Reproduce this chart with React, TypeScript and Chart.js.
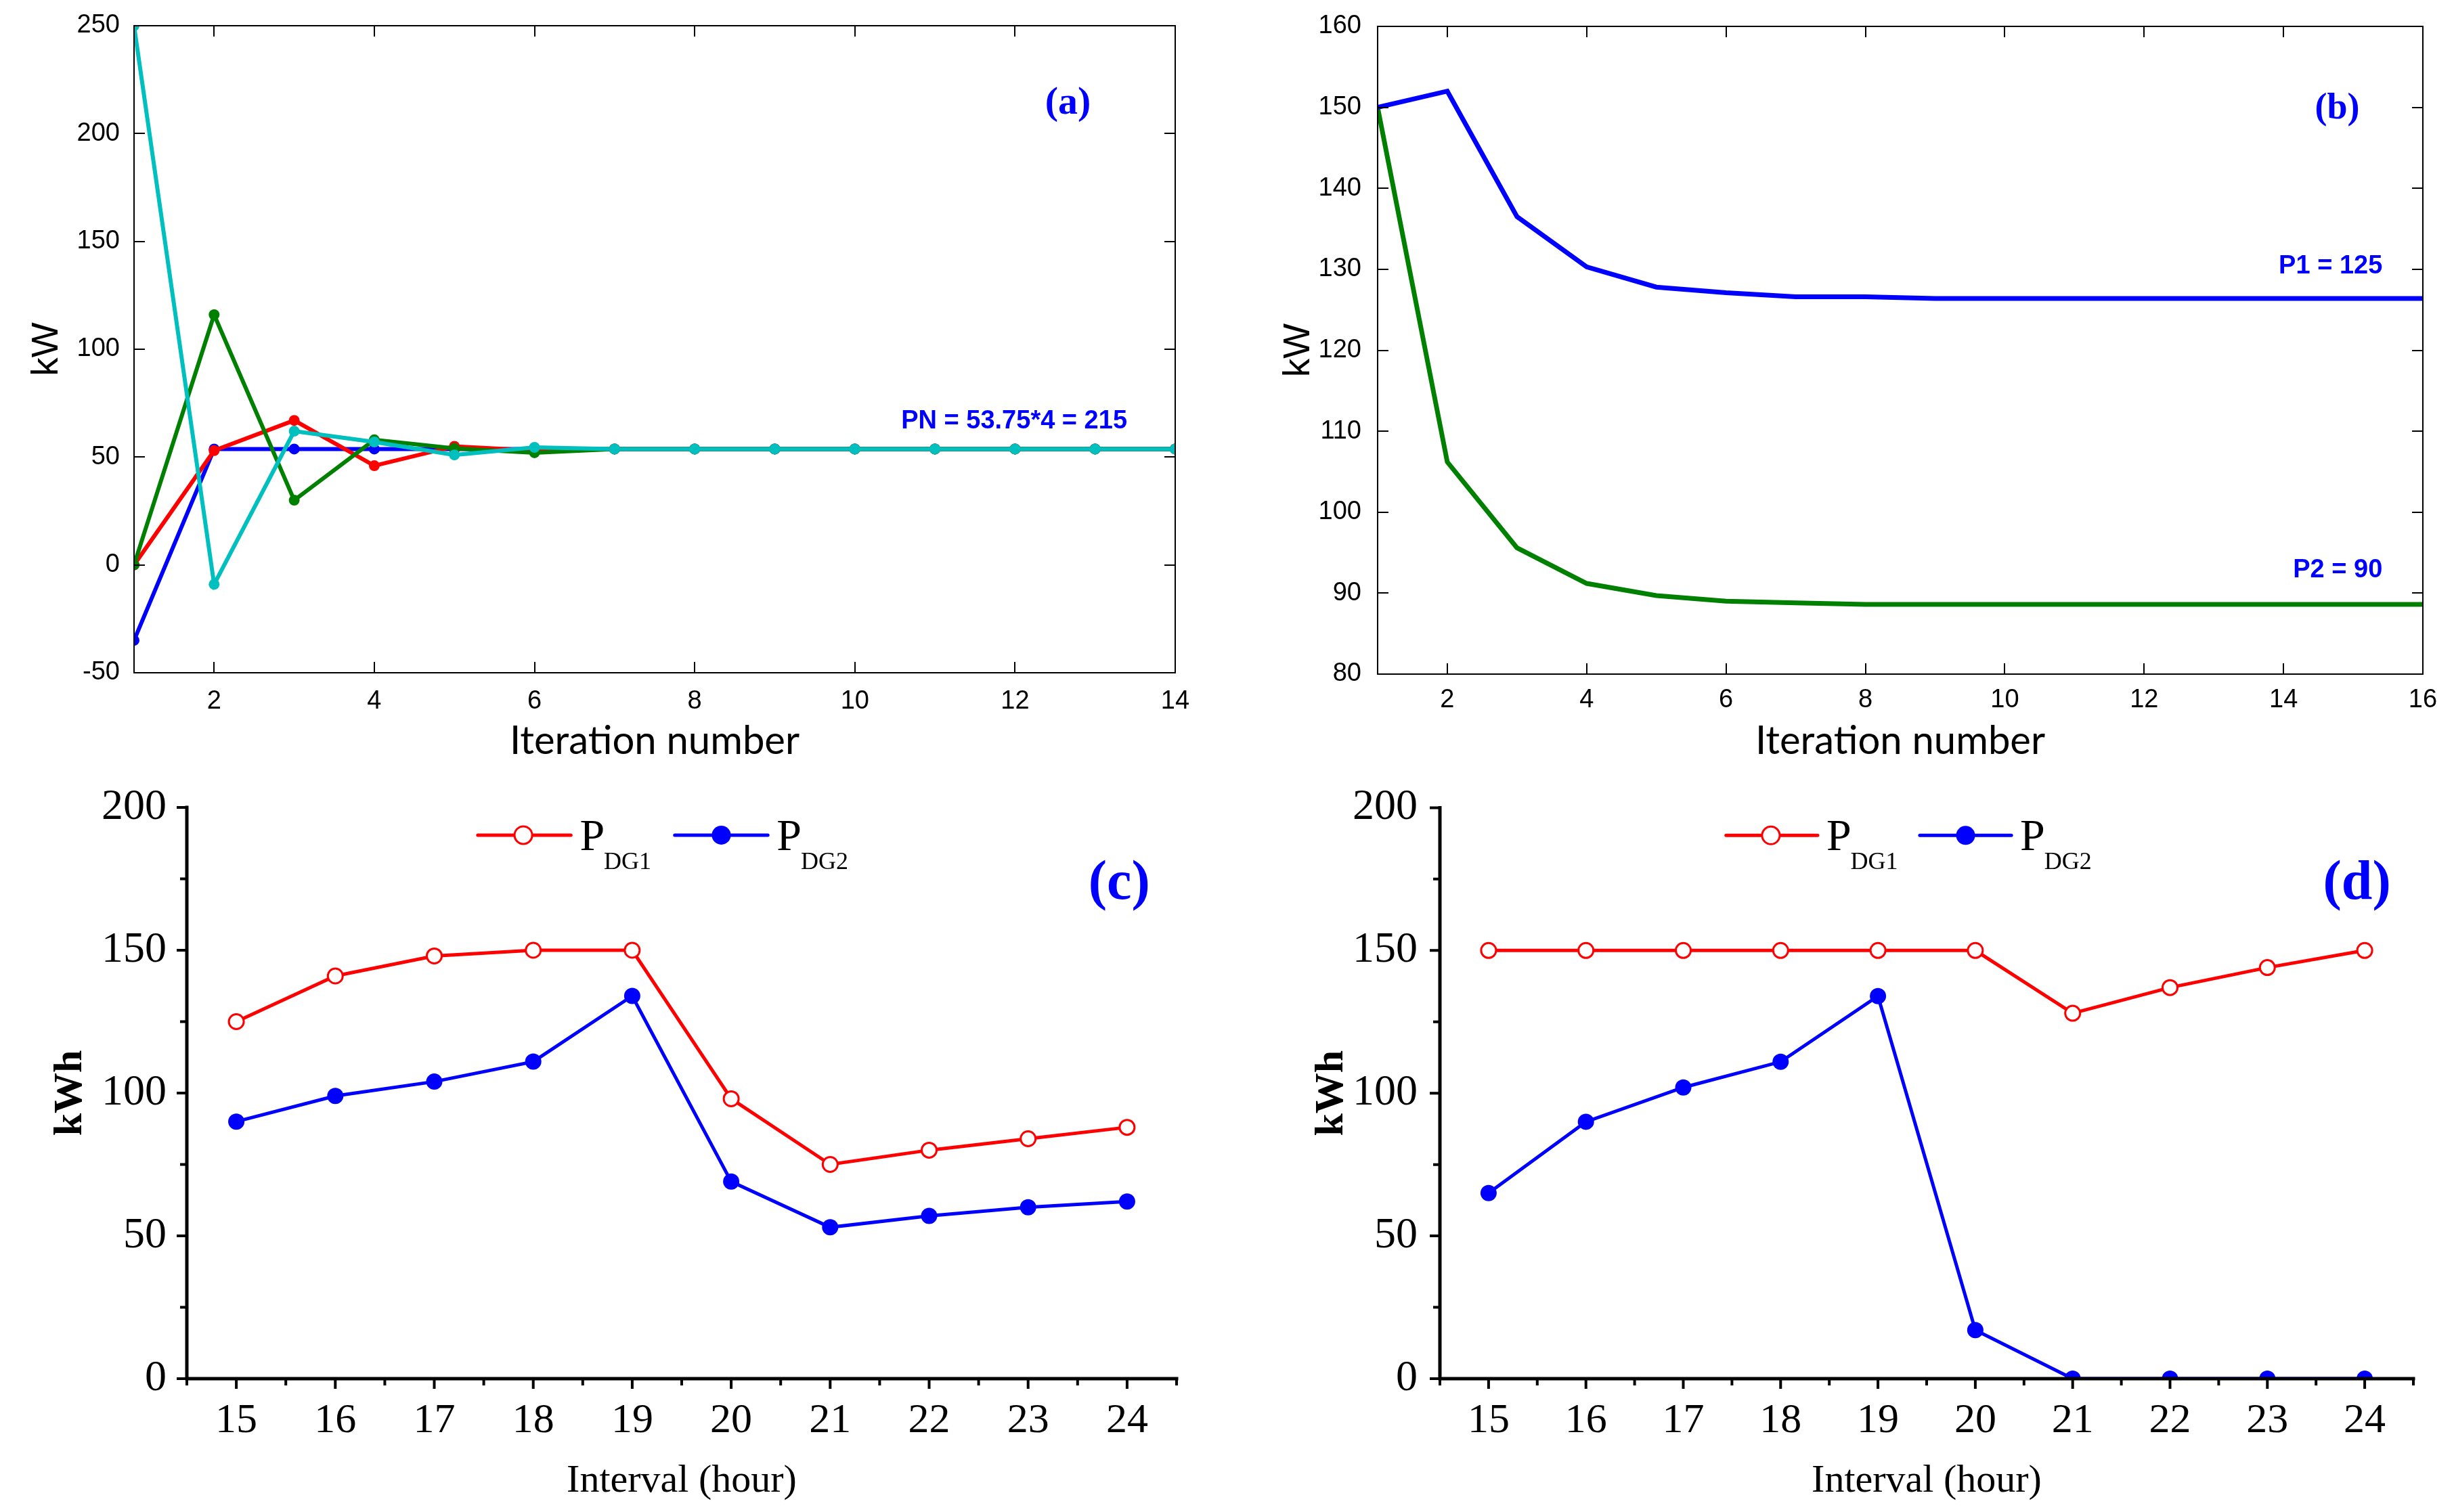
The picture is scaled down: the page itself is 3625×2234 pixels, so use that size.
import React, { useEffect, useRef } from 'react';
import { Chart, registerables } from 'chart.js';
Chart.register(...registerables);

// ---------- data ----------
const iterA = [1, 2, 3, 4, 5, 6, 7, 8, 9, 10, 11, 12, 13, 14];
const aBlue = [-35, 53.75, 53.75, 53.75, 53.75, 53.75, 53.75, 53.75, 53.75, 53.75, 53.75, 53.75, 53.75, 53.75];
const aRed = [0, 53, 67, 46, 55, 53, 53.75, 53.75, 53.75, 53.75, 53.75, 53.75, 53.75, 53.75];
const aGreen = [0, 116, 30, 58, 54, 52, 53.75, 53.75, 53.75, 53.75, 53.75, 53.75, 53.75, 53.75];
const aCyan = [250, -9, 62, 57, 51, 54.5, 53.75, 53.75, 53.75, 53.75, 53.75, 53.75, 53.75, 53.75];
const aXTicks = [2, 4, 6, 8, 10, 12, 14];
const aYTicks = [-50, 0, 50, 100, 150, 200, 250];

const iterB = [1, 2, 3, 4, 5, 6, 7, 8, 9, 10, 11, 12, 13, 14, 15, 16];
const bP1 = [150, 152, 136.5, 130.3, 127.8, 127.1, 126.6, 126.6, 126.4, 126.4, 126.4, 126.4, 126.4, 126.4, 126.4, 126.4];
const bP2 = [150, 106.2, 95.6, 91.2, 89.7, 89.0, 88.8, 88.6, 88.6, 88.6, 88.6, 88.6, 88.6, 88.6, 88.6, 88.6];
const bXTicks = [2, 4, 6, 8, 10, 12, 14, 16];
const bYTicks = [80, 90, 100, 110, 120, 130, 140, 150, 160];

const hours = [15, 16, 17, 18, 19, 20, 21, 22, 23, 24];
const cDG1 = [125, 141, 148, 150, 150, 98, 75, 80, 84, 88];
const cDG2 = [90, 99, 104, 111, 134, 69, 53, 57, 60, 62];
const dDG1 = [150, 150, 150, 150, 150, 150, 128, 137, 144, 150];
const dDG2 = [65, 90, 102, 111, 134, 17, 0, 0, 0, 0];
const hourTicks = [15, 16, 17, 18, 19, 20, 21, 22, 23, 24];
const hourMinor = [14.5, 15.5, 16.5, 17.5, 18.5, 19.5, 20.5, 21.5, 22.5, 23.5, 24.5];
const kwhTicks = [0, 50, 100, 150, 200];
const kwhMinor = [25, 75, 125, 175];

// ---------- fonts ----------
const SANS = '"Liberation Sans", Arial, Helvetica, sans-serif';
const HUMAN = 'Lato, "Open Sans", sans-serif';
const SERIF = '"Liberation Serif", "Times New Roman", serif';

const BLUE = '#0000FF';
const RED = '#FF0000';
const GREEN = '#008000';
const CYAN = '#00BFBF';

const pts = (xs: number[], ys: number[]) => xs.map((x, i) => ({ x, y: ys[i] }));

// ---------- decoration plugin ----------
const decorPlugin = {
  id: 'decor',
  afterDatasetsDraw(chart: any, _args: any, opts: any) {
    if (!opts || !opts.style) return;
    const { ctx, chartArea: a, scales } = chart;
    const xs = scales.x;
    const ys = scales.y;
    ctx.save();
    ctx.strokeStyle = '#000';
    if (opts.style === 'box') {
      const L = opts.tickLen;
      ctx.lineWidth = opts.tickWidth;
      ctx.beginPath();
      for (const v of opts.xMajor) {
        const p = Math.round(xs.getPixelForValue(v));
        ctx.moveTo(p, a.bottom); ctx.lineTo(p, a.bottom - L);
        ctx.moveTo(p, a.top); ctx.lineTo(p, a.top + L);
      }
      for (const v of opts.yMajor) {
        const p = Math.round(ys.getPixelForValue(v));
        ctx.moveTo(a.left, p); ctx.lineTo(a.left + L, p);
        ctx.moveTo(a.right, p); ctx.lineTo(a.right - L, p);
      }
      ctx.stroke();
      ctx.lineWidth = opts.lineWidth;
      ctx.strokeRect(a.left, a.top, a.right - a.left, a.bottom - a.top);
    } else {
      const lw = opts.lineWidth;
      ctx.lineWidth = lw;
      ctx.lineCap = 'square';
      ctx.beginPath();
      ctx.moveTo(a.left, a.top); ctx.lineTo(a.left, a.bottom); ctx.lineTo(a.right, a.bottom);
      ctx.stroke();
      ctx.lineCap = 'butt';
      ctx.lineWidth = opts.tickWidth;
      ctx.beginPath();
      for (const v of opts.xMajor) {
        const p = xs.getPixelForValue(v);
        ctx.moveTo(p, a.bottom); ctx.lineTo(p, a.bottom + opts.tickLen);
      }
      for (const v of opts.xMinor) {
        const p = xs.getPixelForValue(v);
        ctx.moveTo(p, a.bottom); ctx.lineTo(p, a.bottom + opts.minorLen);
      }
      for (const v of opts.yMajor) {
        const p = ys.getPixelForValue(v);
        ctx.moveTo(a.left, p); ctx.lineTo(a.left - opts.tickLen, p);
      }
      for (const v of opts.yMinor) {
        const p = ys.getPixelForValue(v);
        ctx.moveTo(a.left, p); ctx.lineTo(a.left - opts.minorLen, p);
      }
      ctx.stroke();
    }
    // texts
    for (const t of opts.texts || []) {
      ctx.font = t.font;
      ctx.fillStyle = t.color;
      ctx.textAlign = t.align || 'center';
      ctx.textBaseline = 'middle';
      ctx.fillText(t.text, xs.getPixelForValue(t.x), ys.getPixelForValue(t.y));
    }
    // legend
    for (const g of opts.legend || []) {
      const y = ys.getPixelForValue(g.y);
      const x1 = xs.getPixelForValue(g.x1);
      const x2 = xs.getPixelForValue(g.x2);
      const xm = xs.getPixelForValue(g.xm);
      ctx.strokeStyle = g.color;
      ctx.lineWidth = 5;
      ctx.lineCap = 'round';
      ctx.beginPath(); ctx.moveTo(x1, y); ctx.lineTo(x2, y); ctx.stroke();
      ctx.lineCap = 'butt';
      ctx.beginPath(); ctx.arc(xm, y, g.filled ? 14 : 13, 0, Math.PI * 2);
      ctx.fillStyle = g.filled ? g.color : '#fff';
      ctx.fill();
      ctx.lineWidth = g.filled ? 0.1 : 3;
      ctx.stroke();
      const tx = xs.getPixelForValue(g.xt);
      ctx.fillStyle = '#000';
      ctx.textAlign = 'left';
      ctx.textBaseline = 'alphabetic';
      ctx.font = `66px ${SERIF}`;
      ctx.fillText(g.label, tx, y + 22);
      const w = ctx.measureText(g.label).width;
      ctx.font = `36px ${SERIF}`;
      ctx.fillText(g.sub, tx + w - 1, y + 50);
    }
    ctx.restore();
  },
};

type Panel = {
  left: number; top: number; width: number; height: number;
  config: any;
};

function makeScales(p: {
  xmin: number; xmax: number; ymin: number; ymax: number;
  xt: number[]; yt: number[]; yW: number; xH: number;
  xTickFont: any; yTickFont: any; xPad: number; yPad: number;
  xTitle: string; yTitle: string; xTitleFont: any; yTitleFont: any;
  xTitlePad: any; yTitlePad: any;
}) {
  return {
    x: {
      type: 'linear', min: p.xmin, max: p.xmax,
      afterBuildTicks: (s: any) => { s.ticks = p.xt.map((v) => ({ value: v })); },
      afterFit: (s: any) => { s.height = p.xH; },
      grid: { display: false }, border: { display: false },
      ticks: { font: p.xTickFont, color: '#000', padding: p.xPad, autoSkip: false, maxRotation: 0 },
      title: { display: true, text: p.xTitle, font: p.xTitleFont, color: '#000', padding: p.xTitlePad },
    },
    y: {
      type: 'linear', min: p.ymin, max: p.ymax,
      afterBuildTicks: (s: any) => { s.ticks = p.yt.map((v) => ({ value: v })); },
      afterFit: (s: any) => { s.width = p.yW; },
      grid: { display: false }, border: { display: false },
      ticks: { font: p.yTickFont, color: '#000', padding: p.yPad, autoSkip: false },
      title: { display: true, text: p.yTitle, font: p.yTitleFont, color: '#000', padding: p.yTitlePad },
    },
  };
}

const lineDs = (label: string, data: any[], color: string, extra: any) => ({
  label, data, borderColor: color, backgroundColor: color, fill: false, tension: 0, ...extra,
});

const matTick = { family: SANS, size: 38 };

const panels: Panel[] = [
  {
    left: 0, top: 0, width: 1812, height: 1130,
    config: {
      type: 'line',
      data: {
        datasets: [
          lineDs('Node 4', pts(iterA, aCyan), CYAN, { borderWidth: 6, pointRadius: 8, pointBorderWidth: 0, order: 0 }),
          lineDs('Node 3', pts(iterA, aGreen), GREEN, { borderWidth: 6, pointRadius: 8, pointBorderWidth: 0, order: 1 }),
          lineDs('Node 2', pts(iterA, aRed), RED, { borderWidth: 6, pointRadius: 8, pointBorderWidth: 0, order: 2 }),
          lineDs('Node 1', pts(iterA, aBlue), BLUE, { borderWidth: 6, pointRadius: 8, pointBorderWidth: 0, order: 3 }),
        ],
      },
      options: {
        layout: { padding: { left: 0, top: 38, right: 76, bottom: 0 } },
        scales: makeScales({
          xmin: 1, xmax: 14, ymin: -50, ymax: 250, xt: aXTicks, yt: aYTicks, yW: 198, xH: 136,
          xTickFont: matTick, yTickFont: matTick, xPad: 12, yPad: 13,
          xTitle: 'Iteration number', yTitle: 'kW',
          xTitleFont: { family: HUMAN, size: 58 }, yTitleFont: { family: SANS, size: 55 },
          xTitlePad: { top: 0, bottom: 0 }, yTitlePad: { top: 37, bottom: 0 },
        }),
        plugins: {
          decor: {
            style: 'box', tickLen: 16, tickWidth: 2, lineWidth: 2,
            xMajor: aXTicks, yMajor: aYTicks,
            texts: [
              { text: '(a)', x: 12.66, y: 214, font: `bold 58px ${SERIF}`, color: BLUE },
              { text: 'PN = 53.75*4 = 215', x: 13.4, y: 66.5, font: `bold 38px ${SANS}`, color: BLUE, align: 'right' },
            ],
          },
        },
      },
    },
  },
  {
    left: 1812, top: 0, width: 1813, height: 1130,
    config: {
      type: 'line',
      data: {
        datasets: [
          lineDs('P1', pts(iterB, bP1), BLUE, { borderWidth: 7, pointRadius: 0 }),
          lineDs('P2', pts(iterB, bP2), GREEN, { borderWidth: 7, pointRadius: 0 }),
        ],
      },
      options: {
        layout: { padding: { left: 0, top: 39, right: 46, bottom: 0 } },
        scales: makeScales({
          xmin: 1, xmax: 16, ymin: 80, ymax: 160, xt: bXTicks, yt: bYTicks, yW: 223, xH: 134,
          xTickFont: matTick, yTickFont: matTick, xPad: 8, yPad: 16,
          xTitle: 'Iteration number', yTitle: 'kW',
          xTitleFont: { family: HUMAN, size: 58 }, yTitleFont: { family: SANS, size: 55 },
          xTitlePad: { top: 0, bottom: 0 }, yTitlePad: { top: 74, bottom: 0 },
        }),
        plugins: {
          decor: {
            style: 'box', tickLen: 16, tickWidth: 2, lineWidth: 2,
            xMajor: bXTicks, yMajor: bYTicks,
            texts: [
              { text: '(b)', x: 14.77, y: 149.8, font: `bold 54px ${SERIF}`, color: BLUE },
              { text: 'P1 = 125', x: 15.42, y: 130.4, font: `bold 38px ${SANS}`, color: BLUE, align: 'right' },
              { text: 'P2 = 90', x: 15.42, y: 92.8, font: `bold 38px ${SANS}`, color: BLUE, align: 'right' },
            ],
          },
        },
      },
    },
  },
];

const hourPanel = (left: number, yW: number, rightPad: number, dg1: number[], dg2: number[], tag: string, yTitlePadTop: number, yPad: number): Panel => ({
  left, top: 1130, width: left === 0 ? 1812 : 1813, height: 1104,
  config: {
    type: 'line',
    data: {
      datasets: [
        lineDs('PDG2', pts(hours, dg2), BLUE, { borderWidth: 5, pointRadius: 12, pointBorderWidth: 0, pointBackgroundColor: BLUE, order: 0 }),
        lineDs('PDG1', pts(hours, dg1), RED, { borderWidth: 5, pointRadius: 11, pointBorderWidth: 3, pointBackgroundColor: '#fff', pointBorderColor: RED, order: 1 }),
      ],
    },
    options: {
      layout: { padding: { left: 0, top: 63, right: rightPad, bottom: 0 } },
      scales: makeScales({
        xmin: 14.5, xmax: 24.5, ymin: 0, ymax: 200, xt: hourTicks, yt: kwhTicks, yW, xH: 197,
        xTickFont: { family: SERIF, size: 62 }, yTickFont: { family: SERIF, size: 64 }, xPad: 18, yPad: yPad,
        xTitle: 'Interval (hour)', yTitle: 'kWh',
        xTitleFont: { family: SERIF, size: 58 }, yTitleFont: { family: SERIF, size: 60, weight: 'bold' },
        xTitlePad: { top: 0, bottom: 10 }, yTitlePad: { top: yTitlePadTop, bottom: 0 },
      }),
      plugins: {
        decor: {
          style: 'origin', tickLen: 15, minorLen: 10, tickWidth: 4, lineWidth: 5,
          xMajor: hourTicks, xMinor: hourMinor, yMajor: kwhTicks, yMinor: kwhMinor,
          texts: [
            { text: tag, x: 23.92, y: 173, font: `bold 82px ${SERIF}`, color: BLUE },
          ],
          legend: [
            { x1: 17.44, x2: 18.38, xm: 17.9, xt: 18.47, y: 190.3, color: RED, filled: false, label: 'P', sub: 'DG1' },
            { x1: 19.43, x2: 20.37, xm: 19.9, xt: 20.46, y: 190.3, color: BLUE, filled: true, label: 'P', sub: 'DG2' },
          ],
        },
      },
    },
  },
});

panels.push(hourPanel(0, 276, 74, cDG1, cDG2, '(c)', 68, 22));
panels.push(hourPanel(1812, 315, 60, dDG1, dDG2, '(d)', 119, 25));

function ChartPanel({ p }: { p: Panel }) {
  const ref = useRef<HTMLCanvasElement | null>(null);
  useEffect(() => {
    if (!ref.current) return;
    const cfg = p.config;
    const chart = new Chart(ref.current, {
      ...cfg,
      options: {
        ...cfg.options,
        responsive: false,
        maintainAspectRatio: false,
        animation: false,
        devicePixelRatio: 1,
        plugins: { legend: { display: false }, tooltip: { enabled: false }, ...cfg.options.plugins },
      },
      plugins: [decorPlugin],
    } as any);
    return () => chart.destroy();
  }, [p]);
  return (
    <canvas
      ref={ref}
      width={p.width}
      height={p.height}
      style={{ position: 'absolute', left: p.left, top: p.top, width: p.width, height: p.height }}
    />
  );
}

export default function App() {
  return (
    <div style={{ position: 'absolute', left: 0, top: 0, width: 3625, height: 2234, background: '#fff', overflow: 'hidden' }}>
      {panels.map((p, i) => <ChartPanel key={i} p={p} />)}
    </div>
  );
}
